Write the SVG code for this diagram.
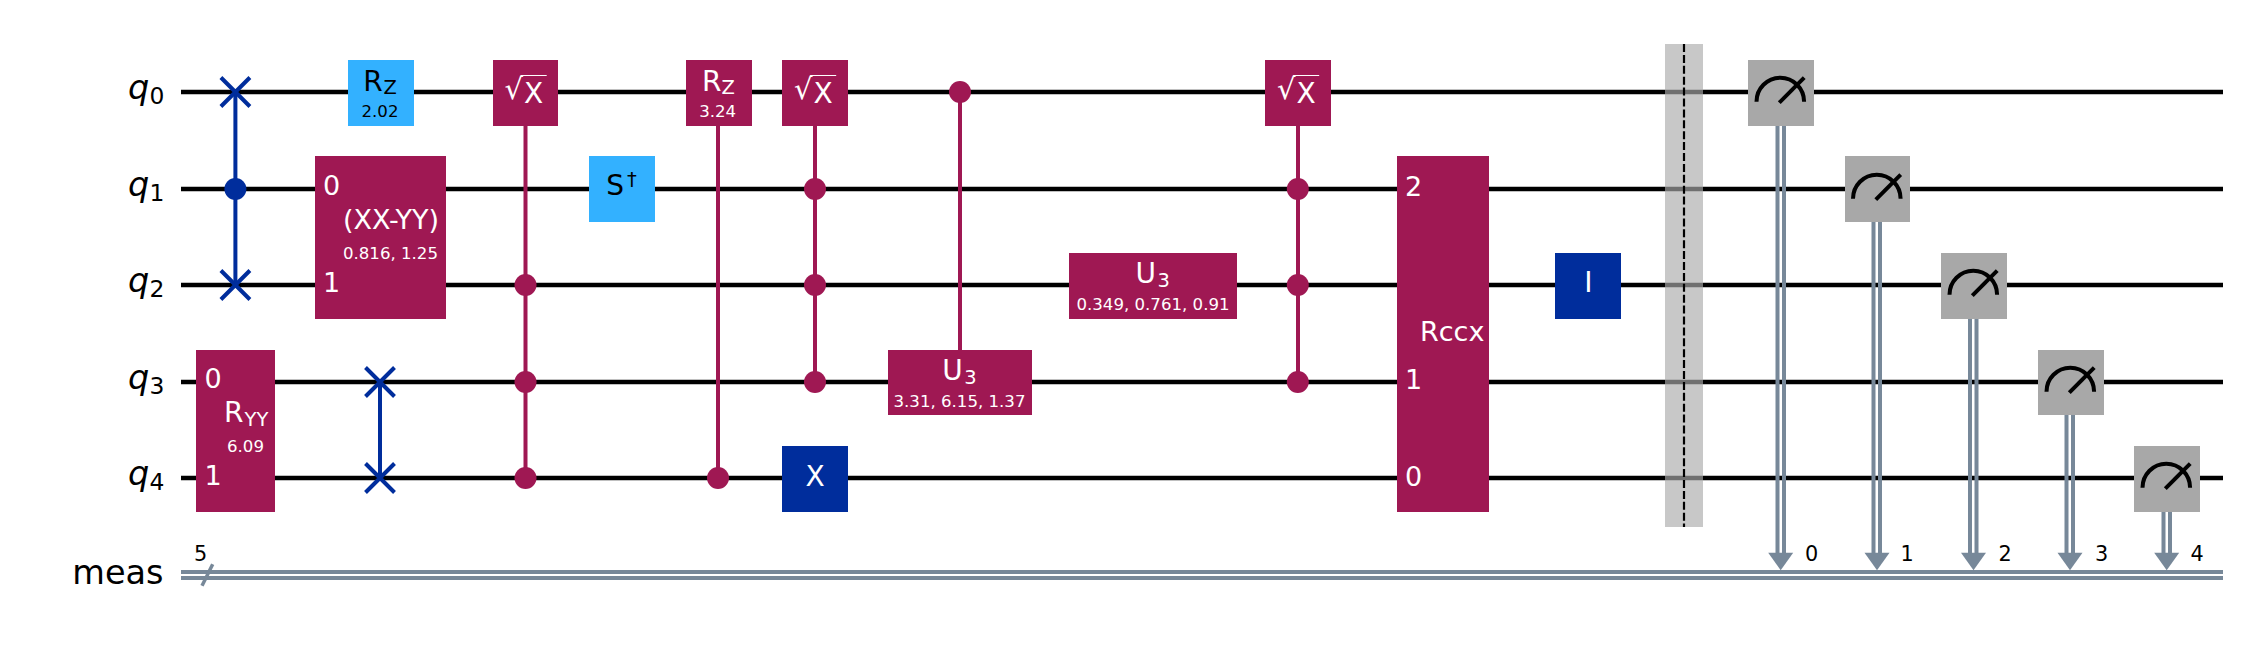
<svg xmlns="http://www.w3.org/2000/svg" width="2245" height="648" viewBox="0 0 2245 648">
<style>
text{font-family:"DejaVu Sans",sans-serif;fill:#fff}
.l{fill:#000;font-size:33.5px}
.ls{fill:#000;font-size:23.4px}
.it{font-style:italic}
.g{font-size:27px}
.h{font-size:28px}
.gs{font-size:19.5px}
.s{font-size:16.6px;text-anchor:middle}
.n{font-size:27px;text-anchor:middle}
.c{text-anchor:middle}
.d{fill:#000}
.b{fill:#000;font-size:20.8px;text-anchor:middle}
.w{stroke:#000;stroke-width:4.4;fill:none}
.cw{stroke:#778899;stroke-width:4;fill:none}
.m{fill:#9F1853}.p{fill:#33B1FF}.k{fill:#002D9C}.y{fill:#A8A8A8}
.ml{stroke:#9F1853;stroke-width:4;fill:none}
.bl{stroke:#002D9C;stroke-width:4;fill:none}
.ic{stroke:#000;stroke-width:4;fill:none}
.v{stroke:#fff;stroke-width:1;fill:none}
</style>
<defs>
<path id="x" d="M-14.5-14.5L14.5 14.5M-14.5 14.5L14.5-14.5" class="bl"/>
<g id="mi"><path d="M-24.5 9.7A23.8 24 0 0 1 23.1 9.7" class="ic"/><path d="M-1.7 10.7L23.2-14.3" class="ic"/></g>
<polygon id="ah" points="-12.5,0 12.5,0 0,17.5" fill="#778899"/>
</defs>
<rect width="2245" height="648" fill="#fff"/>
<g id="wires">
<path class="w" d="M181 92H2223"/><path class="w" d="M181 189H2223"/><path class="w" d="M181 285H2223"/><path class="w" d="M181 382H2223"/><path class="w" d="M181 478H2223"/>
<path class="cw" d="M181 572H2223"/><path class="cw" d="M181 578H2223"/>
<path d="M202 585.7L212.7 564.3" stroke="#778899" stroke-width="3.5" fill="none"/>
</g>
<g id="labels">
<text class="l it" x="128" y="99">q</text><text class="ls" x="149.5" y="104">0</text>
<text class="l it" x="128" y="196">q</text><text class="ls" x="149.5" y="201">1</text>
<text class="l it" x="128" y="292">q</text><text class="ls" x="149.5" y="297">2</text>
<text class="l it" x="128" y="389">q</text><text class="ls" x="149.5" y="394">3</text>
<text class="l it" x="128" y="485">q</text><text class="ls" x="149.5" y="490">4</text>
<text class="l" x="163.5" y="584" text-anchor="end">meas</text>
<text class="b" x="200.7" y="560.7">5</text>
</g>
<g id="connectors">
<path class="bl" d="M235.4 92V285"/>
<path class="bl" d="M380 382V478"/>
<path class="ml" d="M525.5 125V478"/>
<path class="ml" d="M718 125V478"/>
<path class="ml" d="M815 125V382"/>
<path class="ml" d="M960 92V350"/>
<path class="ml" d="M1298 125V382"/>
<path class="cw" d="M1777.5 125V556M1784 125V556"/>
<path class="cw" d="M1873.5 222V556M1880 222V556"/>
<path class="cw" d="M1970 318V556M1976.5 318V556"/>
<path class="cw" d="M2066.5 414V556M2073 414V556"/>
<path class="cw" d="M2163.5 511V556M2170 511V556"/>
<use href="#ah" x="1780.7" y="552.7"/><use href="#ah" x="1877" y="552.7"/><use href="#ah" x="1973.5" y="552.7"/><use href="#ah" x="2070" y="552.7"/><use href="#ah" x="2166.7" y="552.7"/>
</g>
<g id="swap1"><use href="#x" x="235.4" y="92"/><circle cx="235.4" cy="189" r="11" fill="#002D9C"/><use href="#x" x="235.4" y="285"/></g>
<g id="ryy"><rect class="m" x="196" y="350" width="79" height="162"/><text class="n" x="213" y="388">0</text><text class="n" x="213" y="485">1</text><text class="h" x="224" y="422">R</text><text class="gs" x="244.5" y="426">YY</text><text class="s" x="245.5" y="452">6.09</text></g>
<g id="rz1"><rect class="p" x="348" y="60" width="66" height="66"/><text class="h d" x="363.3" y="91">R</text><text class="gs d" x="383.6" y="94">Z</text><text class="s d" x="380" y="117">2.02</text></g>
<g id="xxyy"><rect class="m" x="315" y="156" width="131" height="163"/><text class="n" x="331.5" y="195">0</text><text class="n" x="331.5" y="292">1</text><text class="g c" x="391" y="229">(XX-YY)</text><text class="s" x="390.5" y="259">0.816, 1.25</text></g>
<g id="swap2"><use href="#x" x="380" y="382"/><use href="#x" x="380" y="478"/></g>
<g id="sx1"><rect class="m" x="493" y="60" width="65" height="66"/><text x="504.5" y="98.5" style="font-size:29px">√</text><path class="v" d="M520.7 75.5H546.7"/><text class="h" x="524" y="103">X</text><circle class="m" cx="525.5" cy="285" r="11"/><circle class="m" cx="525.5" cy="382" r="11"/><circle class="m" cx="525.5" cy="478" r="11"/></g>
<g id="sdg"><rect class="p" x="589" y="156" width="66" height="66"/><text class="h d" x="606.2" y="195">S</text><text class="gs d" x="627" y="186">†</text></g>
<g id="rz2"><rect class="m" x="686" y="60" width="66" height="66"/><text class="h" x="702" y="91">R</text><text class="gs" x="721.6" y="94">Z</text><text class="s" x="717.7" y="117">3.24</text><circle class="m" cx="718" cy="478" r="11"/></g>
<g id="sx2"><rect class="m" x="782" y="60" width="66" height="66"/><text x="794" y="98.5" style="font-size:29px">√</text><path class="v" d="M810.2 75.5H836.2"/><text class="h" x="813.5" y="103">X</text><circle class="m" cx="815" cy="189" r="11"/><circle class="m" cx="815" cy="285" r="11"/><circle class="m" cx="815" cy="382" r="11"/></g>
<g id="x1"><rect class="k" x="782" y="446" width="66" height="66"/><text class="h c" x="815" y="486">X</text></g>
<g id="u3a"><circle class="m" cx="960" cy="92" r="11"/><rect class="m" x="888" y="350" width="144" height="65"/><text class="h" x="942.2" y="380">U</text><text class="gs" x="964.3" y="384">3</text><text class="s" x="959.5" y="406.5">3.31, 6.15, 1.37</text></g>
<g id="u3b"><rect class="m" x="1069" y="253" width="168" height="66"/><text class="h" x="1135.6" y="283">U</text><text class="gs" x="1157.6" y="287">3</text><text class="s" x="1153" y="310">0.349, 0.761, 0.91</text></g>
<g id="sx3"><rect class="m" x="1265" y="60" width="66" height="66"/><text x="1277" y="98.5" style="font-size:29px">√</text><path class="v" d="M1293.2 75.5H1319.2"/><text class="h" x="1296.5" y="103">X</text><circle class="m" cx="1297.8" cy="189" r="11"/><circle class="m" cx="1297.8" cy="285" r="11"/><circle class="m" cx="1297.8" cy="382" r="11"/></g>
<g id="rccx"><rect class="m" x="1397" y="156" width="92" height="356"/><text class="n" x="1413.5" y="195.5">2</text><text class="n" x="1413.5" y="388.5">1</text><text class="n" x="1413.5" y="485.5">0</text><text class="g" x="1420" y="341">Rccx</text></g>
<g id="id"><rect class="k" x="1555" y="253" width="66" height="66"/><text class="h c" x="1588.3" y="292">I</text></g>
<g id="barrier"><rect x="1665" y="44" width="38" height="483" fill="#ABABAB" fill-opacity=".655"/><path d="M1684 44V527" stroke="#000" stroke-width="2.2" stroke-dasharray="8 2.9" fill="none"/></g>
<g id="m0"><rect class="y" x="1748" y="60" width="66" height="66"/><use href="#mi" x="1781" y="92"/></g>
<g id="m1"><rect class="y" x="1845" y="156" width="65" height="66"/><use href="#mi" x="1877.5" y="189"/></g>
<g id="m2"><rect class="y" x="1941" y="253" width="66" height="66"/><use href="#mi" x="1974" y="285"/></g>
<g id="m3"><rect class="y" x="2038" y="350" width="66" height="65"/><use href="#mi" x="2071" y="382"/></g>
<g id="m4"><rect class="y" x="2134" y="446" width="66" height="66"/><use href="#mi" x="2167" y="478"/></g>
<g id="bits"><text class="b" x="1811.5" y="561">0</text><text class="b" x="1907" y="561">1</text><text class="b" x="2005" y="561">2</text><text class="b" x="2101.5" y="561">3</text><text class="b" x="2197" y="561">4</text></g>
</svg>
